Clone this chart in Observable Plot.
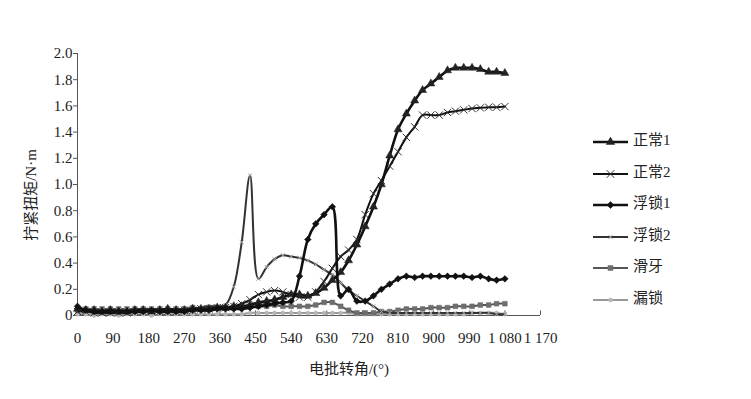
<!DOCTYPE html>
<html><head><meta charset="utf-8">
<script src="https://cdn.jsdelivr.net/npm/d3@7"></script>
<script src="https://cdn.jsdelivr.net/npm/@observablehq/plot@0.6"></script>
<style>
body{margin:0;background:#fff;}
#chart{position:relative;width:751px;height:399px;}
</style></head><body><div id="chart"></div>
<script>
// ---- data ----
const angles = [0,21,42,62,83,104,125,145,166,187,208,228,249,270,291,312,332,353,374,395,415,436,457,478,498,519,540,561,582,602,623,644,665,685,706,727,748,768,789,810,831,852,872,893,914,935,955,976,997,1018,1039,1059,1080];
const seriesNames = ["正常1","正常2","浮锁1","浮锁2","滑牙","漏锁"];
const normal1 = [0.05,0.04,0.04,0.03,0.04,0.03,0.03,0.04,0.04,0.03,0.04,0.05,0.04,0.04,0.05,0.05,0.05,0.06,0.06,0.07,
  0.07,0.08,0.10,0.11,0.12,0.14,0.16,0.16,0.15,0.17,0.21,0.27,0.33,0.42,0.54,0.68,0.83,1.00,1.22,1.42,1.54,1.64,1.72,1.77,1.82,1.87,1.89,1.89,1.89,1.88,1.86,1.86,1.85];
const normal2 = [0.03,0.03,0.02,0.02,0.02,0.02,0.02,0.03,0.03,0.03,0.03,0.03,0.03,0.04,0.04,0.05,0.05,0.06,0.06,0.07,
  0.09,0.12,0.16,0.18,0.19,0.18,0.16,0.14,0.14,0.18,0.26,0.36,0.45,0.50,0.58,0.77,0.93,1.03,1.14,1.25,1.36,1.44,1.53,1.53,1.53,1.55,1.56,1.57,1.58,1.585,1.59,1.59,1.595];
const floatLock1 = [0.07,0.04,0.03,0.03,0.03,0.03,0.03,0.03,0.03,0.04,0.03,0.03,0.03,0.03,0.04,0.04,0.04,0.05,0.05,0.05,
  0.05,0.06,0.07,0.08,0.09,0.10,0.11,0.30,0.58,0.70,0.77,0.83,0.15,0.20,0.11,0.11,0.15,0.20,0.24,0.28,0.30,0.29,0.30,0.30,0.30,0.30,0.30,0.30,0.29,0.30,0.28,0.27,0.28];
const floatLock2 = [0.04,0.04,0.04,0.04,0.04,0.04,0.04,0.04,0.05,0.05,0.05,0.05,0.05,0.05,0.05,0.06,0.07,0.07,
  0.08,0.22,0.56,1.07,0.28,0.37,0.43,0.46,0.45,0.44,0.42,0.39,0.35,0.31,0.25,0.19,0.15,0.11,0.07,0.03,0.02,0.02,0.02,0.02,0.02,0.02,0.02,0.02,0.02,0.02,0.02,0.02,0.02,0.01,0.01];
const stripped = [0.04,0.05,0.05,0.05,0.05,0.05,0.05,0.05,0.05,0.05,0.05,0.05,0.05,0.05,0.06,0.05,0.06,0.06,0.06,0.06,
  0.07,0.07,0.07,0.07,0.08,0.07,0.07,0.07,0.07,0.08,0.10,0.10,0.07,0.04,0.02,0.02,0.02,0.03,0.03,0.04,0.05,0.05,0.05,0.06,0.06,0.06,0.07,0.07,0.07,0.08,0.08,0.09,0.09];
const missingLock = [0.01,0.01,0.00,0.01,0.01,0.00,0.01,0.01,0.01,0.00,0.01,0.01,0.01,0.01,0.01,0.01,0.01,0.01,0.01,0.01,
  0.01,0.02,0.02,0.02,0.02,0.02,0.02,0.02,0.02,0.02,0.02,0.02,0.02,0.02,0.01,0.01,0.01,0.01,0.01,0.01,0.01,0.01,0.01,0.01,0.01,0.01,0.01,0.01,0.02,0.02,0.02,0.02,0.01];
const seriesValues = [normal1, normal2, floatLock1, floatLock2, stripped, missingLock];
const xTicks = [0,90,180,270,360,450,540,630,720,810,900,990,1080,1170];
const xTickLabels = ["0","90","180","270","360","450","540","630","720","810","900","990","1 080","1 170"];
const yTicks = [0,0.2,0.4,0.6,0.8,1.0,1.2,1.4,1.6,1.8,2.0];
const yTickLabels = ["0","0.2","0.4","0.6","0.8","1.0","1.2","1.4","1.6","1.8","2.0"];
const xTitle = "电批转角/(°)";
const yTitle = "拧紧扭矩/N·m";

// ---- styles ----
const styles = {
  "正常1": {line:"#111", lw:2.6, symbol:"triangle", d3sym:d3.symbolTriangle, fill:"#222", stroke:"#222", r:3.0, sw:0.5},
  "正常2": {line:"#111", lw:2.0, symbol:"times", d3sym:d3.symbolTimes, fill:"none", stroke:"#333", r:3.4, sw:1},
  "浮锁1": {line:"#111", lw:2.6, symbol:"diamond2", d3sym:d3.symbolDiamond2, fill:"#111", stroke:"#111", r:3.0, sw:0.5},
  "浮锁2": {line:"#333", lw:2.0, symbol:"times", d3sym:d3.symbolTimes, fill:"none", stroke:"#aaa", r:2.0, sw:1},
  "滑牙":  {line:"#555", lw:2.0, symbol:"square", d3sym:d3.symbolSquare, fill:"#6e6e6e", stroke:"#6e6e6e", r:2.7, sw:0.5},
  "漏锁":  {line:"#999", lw:2.0, symbol:"circle", d3sym:d3.symbolCircle, fill:"#b5b5b5", stroke:"#b5b5b5", r:2.0, sw:0.5}
};

const rows = [];
seriesNames.forEach((s, k) => seriesValues[k].forEach((v, i) => rows.push({series:s, angle:angles[i], value:v})));

const FONT = '"Liberation Serif","Noto Sans CJK SC",serif';
const drawOrder = ["漏锁","滑牙","浮锁2","正常2","正常1","浮锁1"];
const marks = [
  Plot.ruleX([0], {stroke:"#555", strokeWidth:1}),
  Plot.ruleY([0], {stroke:"#555", strokeWidth:1}),
  Plot.ruleX(xTicks.slice(1), {y1:0, y2:0.035, stroke:"#555", strokeWidth:1}),
  Plot.axisY({ticks:yTicks, tickFormat:d => yTickLabels[yTicks.findIndex(t => Math.abs(t-d)<1e-9)], tickSize:4, tickPadding:1, label:null, fontSize:15, stroke:"#555"}),
  Plot.axisX({ticks:xTicks, tickFormat:d => xTickLabels[xTicks.indexOf(d)], tickSize:0, tickPadding:17, label:null, fontSize:15})
];
for (const s of drawOrder) {
  const st = styles[s];
  const data = rows.filter(r => r.series === s);
  marks.push(Plot.line(data, {x:"angle", y:"value", stroke:st.line, strokeWidth:st.lw, curve:"catmull-rom"}));
  marks.push(Plot.dot(data, {x:"angle", y:"value", symbol:st.symbol, r:st.r, fill:st.fill, stroke:st.stroke, strokeWidth:st.sw}));
}

const svg = Plot.plot({
  width:751, height:399,
  marginLeft:77, marginRight:211, marginTop:53, marginBottom:84,
  style:{fontFamily:FONT, fontSize:"15px", background:"white", color:"#222", overflow:"visible"},
  x:{domain:[0,1170]},
  y:{domain:[0,2]},
  marks
});
document.getElementById("chart").appendChild(svg);

// ---- titles and legend ----
const root = d3.select(svg);
root.append("text").attr("x", 349).attr("y", 371).attr("text-anchor","middle").attr("dominant-baseline","middle")
  .style("font-family", FONT).style("font-size","15px").attr("fill","#222").text(xTitle);
root.append("text").attr("transform","translate(33,195) rotate(-90)").attr("text-anchor","middle").attr("dominant-baseline","middle")
  .style("font-family", FONT).style("font-size","15px").attr("fill","#222").text(yTitle);

const legendY = [142, 174, 205, 237, 268, 300];
const lg = root.append("g").attr("text-anchor","start");
seriesNames.forEach((s, k) => {
  const st = styles[s];
  const y = legendY[k];
  lg.append("line").attr("x1",593).attr("x2",628).attr("y1",y).attr("y2",y).attr("stroke",st.line).attr("stroke-width",st.lw);
  lg.append("path").attr("transform",`translate(610.5,${y})`)
    .attr("d", d3.symbol().type(st.d3sym).size(Math.PI*st.r*st.r*1.1)())
    .attr("fill", st.fill).attr("stroke", st.stroke).attr("stroke-width", st.sw);
  lg.append("text").attr("x",633).attr("y",y).attr("dominant-baseline","middle").attr("text-anchor","start")
    .style("font-family", FONT).style("font-size","15px").style("text-anchor","start").attr("fill","#222").text(s);
});
</script></body></html>
